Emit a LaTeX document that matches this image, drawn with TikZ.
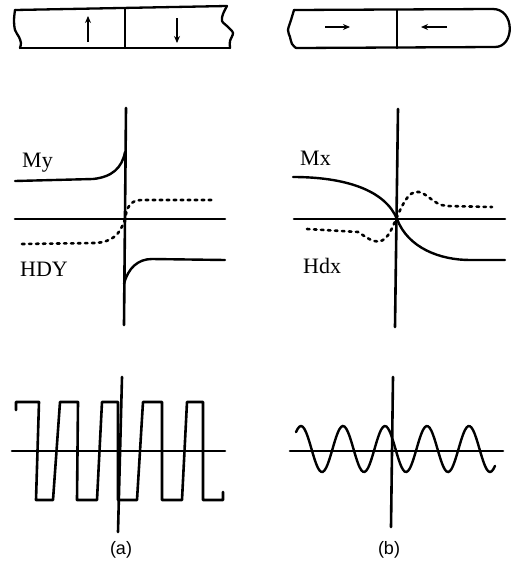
\documentclass[tikz,border=0pt]{standalone}
\usepackage{fontspec}
\setmainfont{Liberation Serif}
\newfontfamily\capfont{Liberation Sans}
\usetikzlibrary{arrows.meta}
\tikzset{
  thick line/.style={line width=2.6pt, line cap=round, line join=round},
  bar line/.style={line width=2.3pt, line cap=round, line join=round},
  curve line/.style={line width=2.4pt, line cap=round},
  dot line/.style={line width=2.6pt, line cap=round, dash pattern=on 2.5pt off 4.5pt},
  small arrow/.style={line width=1.5pt, -{Stealth[length=7pt,width=6pt]}},
  lbl/.style={font=\fontsize{22}{24}\selectfont, inner sep=0pt, anchor=base west},
  caplabel/.style={font=\capfont\fontsize{18}{20}\selectfont, inner sep=0pt, anchor=base},
}
\begin{document}
\begin{tikzpicture}[x=1pt,y=-1pt]
\useasboundingbox (0,0) rectangle (525,565);
\fill[white] (0,0) rectangle (525,565);

% ---------- top bars ----------
% left bar
\draw[bar line] (15,10) -- (227,6);
\draw[bar line] plot[smooth] coordinates {(227,6) (223,14) (222,21) (228,27) (233,33) (230,41) (230,48)};
\draw[bar line] (20,48) -- (230,48);
\draw[bar line] plot[smooth] coordinates {(15,10) (14,20) (15,30) (19,37) (21,43) (20,48)};
\draw[bar line] (125,9) -- (125,48);
\draw[small arrow] (88,42) -- (88,16);
\draw[small arrow] (177,18) -- (177,43);
% right bar
\draw[bar line] (294,10) -- (493,9);
\draw[bar line] (493,9) .. controls (515,9) and (515,47) .. (495,47);
\draw[bar line] (296,48) -- (495,47);
\draw[bar line] plot[smooth] coordinates {(294,10) (291,20) (288,30) (290,37) (292,44) (296,48)};
\draw[bar line] (397,10) -- (397,48);
\draw[small arrow] (325,27) -- (350,27);
\draw[small arrow] (447,27) -- (421,27);

% ---------- middle (a) ----------
\coordinate (a0) at (125,219);
\draw[thick line] (126,108) -- (124,325);
\draw[thick line] (15,219) -- (225,219);
\draw[curve line] (15,181) -- (93,179) .. controls (112,177) and (122,168) .. (125,152);
\draw[dot line] (22,244) -- (95,243) .. controls (112,242) and (120,235) .. (a0)
   .. controls (127,207) and (130,200) .. (142,200) -- (215,200);
\draw[curve line] (124,284) .. controls (128,268) and (138,259) .. (152,259) -- (225,260);
\node[lbl] (My) at (22,167) {My};
\node[lbl] (HDY) at (20,276) {HDY};

% ---------- middle (b) ----------
\coordinate (b0) at (397,219);
\draw[thick line] (398,109) -- (395,327);
\draw[thick line] (294,219) -- (505,219);
\draw[curve line] (293,177) .. controls (345,177) and (385,190) .. (b0)
   .. controls (408,248) and (440,260) .. (470,260) -- (505,260);
\draw[dot line] (307,229) -- (358,232) .. controls (368,238) and (380,250) .. (390,232)
   .. controls (396,222) and (404,194) .. (415,192) .. controls (426,190) and (432,205) .. (447,206) -- (492,207);
\node[lbl] (Mx) at (300,165) {Mx};
\node[lbl] (Hdx) at (303,273) {Hdx};

% ---------- bottom (a) ----------
\draw[thick line] (122,377) -- (118,532);
\draw[thick line] (12,451) -- (225,451);
\draw[thick line] (16,410) -- (16,402) -- (39,402) -- (36,500) -- (53,500) -- (60,402) -- (78,402)
  -- (77,500) -- (97,500) -- (102,402) -- (118,402) -- (118,500) -- (137,500) -- (143,402)
  -- (162,402) -- (162,500) -- (182,500) -- (187,402) -- (203,402) -- (203,500) -- (223,500) -- (223,492);
\node[caplabel] (capa) at (121,554) {(a)};

% ---------- bottom (b) ----------
\draw[thick line] (393,377) -- (391,527);
\draw[thick line] (290,451) -- (503,451);
\draw[curve line] plot[smooth, domain=296:495, samples=120] (\x, {449-23*cos(8.5714*(\x-301))});
\node[caplabel] (capb) at (389,554) {(b)};
\end{tikzpicture}
\end{document}
